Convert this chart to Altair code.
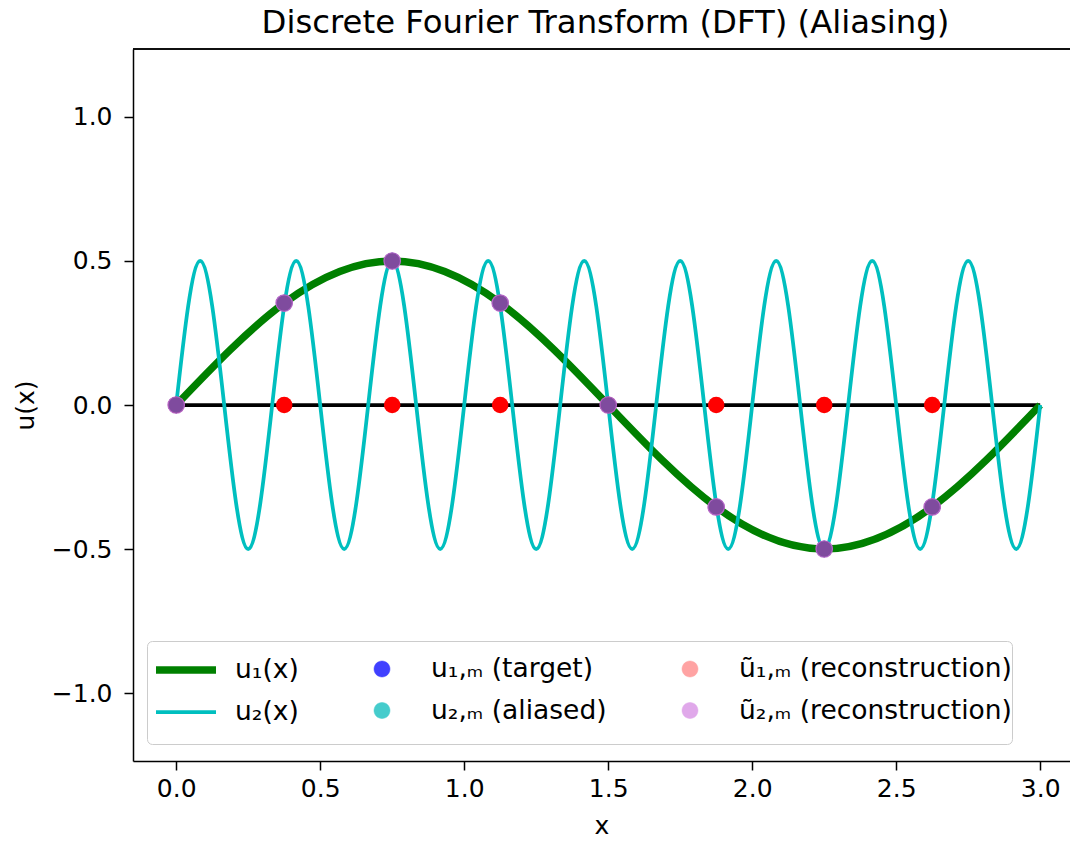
import altair as alt
import pandas as pd

# ---------------- data ----------------
# sample points x_m (8 samples on [0, 3))
x_m = [0.0, 0.375, 0.75, 1.125, 1.5, 1.875, 2.25, 2.625]
u1_m = [0.0, 0.354, 0.5, 0.354, 0.0, -0.354, -0.5, -0.354]      # target
u2_m = [0.0, 0.354, 0.5, 0.354, 0.0, -0.354, -0.5, -0.354]      # aliased
u1_rec = [0.0, 0.0, 0.0, 0.0, 0.0, 0.0, 0.0, 0.0]               # reconstruction 1
u2_rec = [0.0, 0.354, 0.5, 0.354, 0.0, -0.354, -0.5, -0.354]    # reconstruction 2

# continuous curves: knots (zeros / extrema / mid values)
u1_x = [0.0, 0.375, 0.75, 1.125, 1.5, 1.875, 2.25, 2.625, 3.0]
u1_y = [0.0, 0.354, 0.5, 0.354, 0.0, -0.354, -0.5, -0.354, 0.0]

u2_x = [0.0, 0.0833, 0.1667, 0.25, 0.3333, 0.4167, 0.5, 0.5833, 0.6667, 0.75,
        0.8333, 0.9167, 1.0, 1.0833, 1.1667, 1.25, 1.3333, 1.4167, 1.5, 1.5833,
        1.6667, 1.75, 1.8333, 1.9167, 2.0, 2.0833, 2.1667, 2.25, 2.3333, 2.4167,
        2.5, 2.5833, 2.6667, 2.75, 2.8333, 2.9167, 3.0]
u2_y = [0.0, 0.5, 0.0, -0.5, 0.0, 0.5, 0.0, -0.5, 0.0, 0.5,
        0.0, -0.5, 0.0, 0.5, 0.0, -0.5, 0.0, 0.5, 0.0, -0.5,
        0.0, 0.5, 0.0, -0.5, 0.0, 0.5, 0.0, -0.5, 0.0, 0.5,
        0.0, -0.5, 0.0, 0.5, 0.0, -0.5, 0.0]

zero_x = [0.0, 3.0]
zero_y = [0.0, 0.0]

x_ticks = [0.0, 0.5, 1.0, 1.5, 2.0, 2.5, 3.0]
y_ticks = [-1.0, -0.5, 0.0, 0.5, 1.0]

# legend entries in matplotlib (column-major) order
legend_labels = ["u₁(x)", "u₂(x)", "u₁,ₘ (target)", "u₂,ₘ (aliased)",
                 "ũ₁,ₘ (reconstruction)", "ũ₂,ₘ (reconstruction)"]
legend_colors = ["#008000", "#00bfbf", "#4040ff", "#45cccc", "#ffa3a3", "#e0a8ea"]

# legend glyphs (unit box): a horizontal stroke for lines, a small disc for markers,
# both centred on the same handle box
LINE_GLYPH = "M-0.8,0L1.6,0"
DOT_GLYPH = "M0.08,0A0.32,0.32,0,1,0,0.72,0A0.32,0.32,0,1,0,0.08,0Z"
legend_shapes = [LINE_GLYPH, LINE_GLYPH, DOT_GLYPH, DOT_GLYPH, DOT_GLYPH, DOT_GLYPH]
legend_widths = [7.5, 3.75, 0.5, 0.5, 0.5, 0.5]

# ---------------- styling ----------------
FONT = "DejaVu Sans"
FS = 25
W, H = 937, 712
xscale = alt.Scale(domain=[-0.15, -0.15 + W / 288.0], nice=False, zero=False)
yscale = alt.Scale(domain=[-1.236, 1.236], nice=False, zero=False)

x_axis = alt.Axis(values=x_ticks, format=".1f", title="x", grid=False,
                  labelFont=FONT, labelFontSize=FS, labelColor="black",
                  titleFont=FONT, titleFontSize=FS, titleFontWeight="normal",
                  titleColor="black", titlePadding=12,
                  domainColor="black", domainWidth=1.5, tickColor="black",
                  tickWidth=1.5, tickSize=9, labelPadding=6)
y_axis = alt.Axis(values=y_ticks, format=".1f", title="u(x)", grid=False,
                  labelFont=FONT, labelFontSize=FS, labelColor="black",
                  titleFont=FONT, titleFontSize=FS, titleFontWeight="normal",
                  titleColor="black", titlePadding=13,
                  domainColor="black", domainWidth=1.5, tickColor="black",
                  tickWidth=1.5, tickSize=9, labelPadding=12)

X = alt.X("x:Q", scale=xscale, axis=x_axis)
Y = alt.Y("y:Q", scale=yscale, axis=y_axis)

df_zero = pd.DataFrame({"x": zero_x, "y": zero_y})
df_u1 = pd.DataFrame({"x": u1_x, "y": u1_y})
df_u2 = pd.DataFrame({"x": u2_x, "y": u2_y})


def pts(ys):
    return pd.DataFrame({"x": x_m, "y": ys})


zero_line = alt.Chart(df_zero).mark_line(color="black", strokeWidth=3.75).encode(x=X, y=Y)
u1_line = alt.Chart(df_u1).mark_line(color="#008000", strokeWidth=7.5,
                                     interpolate="natural").encode(x=X, y=Y)
u2_line = alt.Chart(df_u2).mark_line(color="#00bfbf", strokeWidth=3.75,
                                     interpolate="natural").encode(x=X, y=Y)

# top spine of the axes frame (right spine lies outside the picture)
top_spine = alt.Chart(df_zero).mark_rule(color="black", strokeWidth=1.5).encode(
    x=alt.value(0), x2=alt.value(W), y=alt.value(0))


def point_layer(ys, color, opacity, stroke=None):
    kw = dict(color=color, opacity=opacity, size=272)
    if stroke:
        kw.update(stroke=stroke, strokeWidth=1.2)
    return alt.Chart(pts(ys)).mark_circle(**kw).encode(x=X, y=Y)


p_target = point_layer(u1_m, "#0000ff", 0.75)
p_alias = point_layer(u2_m, "#00bfbf", 0.75)
p_rec1 = point_layer(u1_rec, "#ff0000", 1.0)
p_rec2 = point_layer(u2_rec, "#7f4b9e", 1.0, stroke="#b866c6")

# ---------------- legend (merged symbol legend from an empty layer) ----------------
legend = alt.Legend(
    title=" ", titleOrient="bottom", titleFontSize=10, titlePadding=8,
    orient="none", legendX=14, legendY=592, columns=3,
    columnPadding=44, rowPadding=-3, padding=0, symbolSize=2500,
    labelFont=FONT, labelFontSize=26.5, labelColor="black", labelOffset=30,
    labelLimit=500,
    strokeColor="#cccccc", fillColor="rgba(255,255,255,0.8)", cornerRadius=5)

df_leg = pd.DataFrame({"label": legend_labels})
enc_field = "label:N"
legend_layer = alt.Chart(df_leg).transform_filter("false").mark_point(opacity=1).encode(
    stroke=alt.Stroke(enc_field, scale=alt.Scale(domain=legend_labels, range=legend_colors),
                      legend=legend),
    fill=alt.Fill(enc_field, scale=alt.Scale(domain=legend_labels, range=legend_colors),
                  legend=legend),
    shape=alt.Shape(enc_field, scale=alt.Scale(domain=legend_labels, range=legend_shapes),
                    legend=legend),
    strokeWidth=alt.StrokeWidth(enc_field,
                                scale=alt.Scale(type="ordinal", domain=legend_labels,
                                                range=legend_widths),
                                legend=legend),
)

chart = alt.layer(
    zero_line, u1_line, u2_line, p_target, p_alias, p_rec1, p_rec2, top_spine,
    legend_layer
).properties(
    width=W, height=H, background="white",
    title=alt.TitleParams("Discrete Fourier Transform (DFT) (Aliasing)",
                          font=FONT, fontSize=32.3, fontWeight="normal",
                          color="black", anchor="middle", offset=16, dy=33,
                          baseline="alphabetic", dx=4),
    autosize=alt.AutoSizeParams(type="none"),
    padding={"left": 125, "top": 41, "right": 0, "bottom": 76},
).configure_view(stroke=None)

chart.save("out.html", embed_options={"renderer": "svg", "actions": False})
